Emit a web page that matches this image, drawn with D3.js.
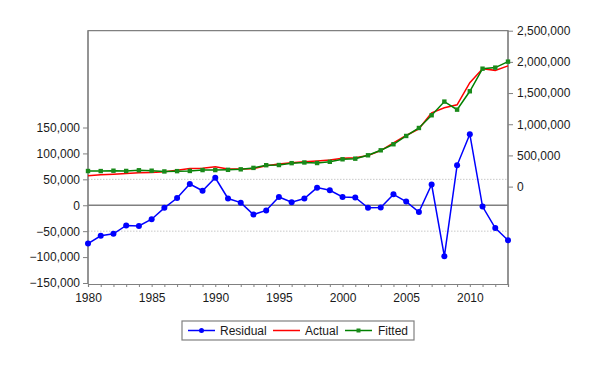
<!DOCTYPE html>
<html>
<head>
<meta charset="utf-8">
<script src="https://cdn.jsdelivr.net/npm/d3@7"></script>
<style>
  body { margin: 0; background: #fff; }
  svg { display: block; }
  text { font-family: "Liberation Sans", Arial, sans-serif; }
</style>
</head>
<body>
<svg id="chart"></svg>
<script>
let years = d3.range(1980, 2014);

let residual = [-74000, -59000, -55000, -39000, -40000, -27000, -5000, 14000, 41000, 28000,
  53000, 13000, 5000, -18000, -10000, 16000, 6000, 13000, 34000, 29000,
  16000, 15000, -5000, -4500, 21000, 7000, -13000, 40000, -98500, 77000,
  137000, -2600, -44000, -67500];

let actual = [175000, 190000, 200000, 212000, 222000, 228000, 238000, 262000, 292000, 293000,
  318000, 282000, 282000, 288000, 333000, 362000, 382000, 400000, 412000, 427000,
  454000, 463000, 497000, 578000, 700000, 819000, 927000, 1184000, 1265000, 1311000,
  1666000, 1889000, 1864000, 1936000];

let fitted = [250000, 249000, 255000, 251000, 262000, 255000, 243000, 248000, 251000, 265000,
  265000, 269000, 277000, 300000, 343000, 346000, 376000, 387000, 378000, 398000,
  438000, 448000, 502000, 582000, 679000, 812000, 940000, 1144000, 1363000, 1234000,
  1529000, 1891000, 1908000, 2004000];

let leftTicks = [-150000, -100000, -50000, 0, 50000, 100000, 150000];
let rightTicks = [0, 500000, 1000000, 1500000, 2000000, 2500000];
let bandLines = [-50000, 50000];
let seriesNames = ["Residual", "Actual", "Fitted"];

let size = {width: 601, height: 368};
let frame = {left: 88, right: 508, top: 30.7, bottom: 284};

let svg = d3.select("#chart")
  .attr("width", size.width)
  .attr("height", size.height);

let x = d3.scaleLinear().domain([1980, 2013]).range([frame.left, frame.right]);
let yL = d3.scaleLinear().domain([-150000, 150000]).range([283, 127.5]);
let yR = d3.scaleLinear().domain([0, 2500000]).range([186.6, frame.top]);

// dotted band lines and zero line
svg.append("g")
  .selectAll("line")
  .data(bandLines)
  .enter().append("line")
  .attr("x1", frame.left).attr("x2", frame.right)
  .attr("y1", d => yL(d)).attr("y2", d => yL(d))
  .attr("stroke", "#c8c8c8")
  .attr("stroke-dasharray", "1.5,1.5")
  .attr("stroke-width", 1);

svg.append("line")
  .attr("x1", frame.left).attr("x2", frame.right)
  .attr("y1", yL(0)).attr("y2", yL(0))
  .attr("stroke", "#808080")
  .attr("stroke-width", 1.5);

// frame
svg.append("path")
  .attr("d", `M${frame.left},${frame.bottom}V${frame.top}H${frame.right}V${frame.bottom}`)
  .attr("fill", "none")
  .attr("stroke", "#808080")
  .attr("stroke-width", 1.2);

// axes
let fmt = d3.format(",");

let xAxis = svg.append("g")
  .attr("transform", `translate(0,${frame.bottom})`)
  .call(d3.axisBottom(x)
    .tickValues(years)
    .tickFormat(d => d % 5 == 0 ? d : "")
    .tickSize(3)
    .tickPadding(6));

let leftAxis = svg.append("g")
  .attr("transform", `translate(${frame.left},0)`)
  .call(d3.axisLeft(yL)
    .tickValues(leftTicks)
    .tickFormat(fmt)
    .tickSize(5)
    .tickPadding(3));

let rightAxis = svg.append("g")
  .attr("transform", `translate(${frame.right},0)`)
  .call(d3.axisRight(yR)
    .tickValues(rightTicks)
    .tickFormat(fmt)
    .tickSize(5)
    .tickPadding(4));

[xAxis, leftAxis, rightAxis].forEach(a => {
  a.select(".domain").attr("stroke", "#808080").attr("stroke-width", 1.2);
  a.selectAll(".tick line").attr("stroke", "#808080");
  a.selectAll("text").attr("font-size", "12px").attr("fill", "#1a1a1a")
    .attr("font-family", "'Liberation Sans', Arial, sans-serif");
});
leftAxis.select(".domain").attr("d", `M-0,${frame.bottom}V${frame.top}`);
rightAxis.select(".domain").attr("d", `M0,${frame.bottom}V${frame.top}`);

// lines
let lineL = d3.line().x((d, i) => x(years[i])).y(d => yL(d));
let lineR = d3.line().x((d, i) => x(years[i])).y(d => yR(d));

svg.append("path")
  .datum(actual)
  .attr("fill", "none")
  .attr("stroke", "#ff0000")
  .attr("stroke-width", 1.5)
  .attr("d", lineR);

svg.append("path")
  .datum(fitted)
  .attr("fill", "none")
  .attr("stroke", "#008000")
  .attr("stroke-width", 1.5)
  .attr("d", lineR);

svg.append("g")
  .selectAll("rect")
  .data(fitted)
  .enter().append("rect")
  .attr("x", (d, i) => x(years[i]) - 2.2)
  .attr("y", d => yR(d) - 2.2)
  .attr("width", 4.4)
  .attr("height", 4.4)
  .attr("fill", "#1a8a1a");

svg.append("path")
  .datum(residual)
  .attr("fill", "none")
  .attr("stroke", "#0000ff")
  .attr("stroke-width", 1.5)
  .attr("d", lineL);

svg.append("g")
  .selectAll("circle")
  .data(residual)
  .enter().append("circle")
  .attr("cx", (d, i) => x(years[i]))
  .attr("cy", d => yL(d))
  .attr("r", 3)
  .attr("fill", "#0000ff");

// legend
let legend = svg.append("g");
legend.append("rect")
  .attr("x", 182).attr("y", 321)
  .attr("width", 232).attr("height", 19)
  .attr("fill", "#fff")
  .attr("stroke", "#808080")
  .attr("stroke-width", 1.2);

let legendColors = ["#0000ff", "#ff0000", "#008000"];
let legendX = [188, 273, 345];
let legendTextX = [220, 305, 378];

legend.selectAll("line")
  .data(seriesNames)
  .enter().append("line")
  .attr("x1", (d, i) => legendX[i])
  .attr("x2", (d, i) => legendX[i] + 27)
  .attr("y1", 330.5).attr("y2", 330.5)
  .attr("stroke", (d, i) => legendColors[i])
  .attr("stroke-width", 1.5);

legend.append("circle")
  .attr("cx", legendX[0] + 13.5).attr("cy", 330.5).attr("r", 2.5)
  .attr("fill", "#0000ff");
legend.append("rect")
  .attr("x", legendX[2] + 11.5).attr("y", 328.5).attr("width", 4).attr("height", 4)
  .attr("fill", "#1a8a1a");

legend.selectAll("text")
  .data(seriesNames)
  .enter().append("text")
  .attr("x", (d, i) => legendTextX[i])
  .attr("y", 334.8)
  .attr("font-size", "12px")
  .attr("fill", "#1a1a1a")
  .text(d => d);
</script>
</body>
</html>
